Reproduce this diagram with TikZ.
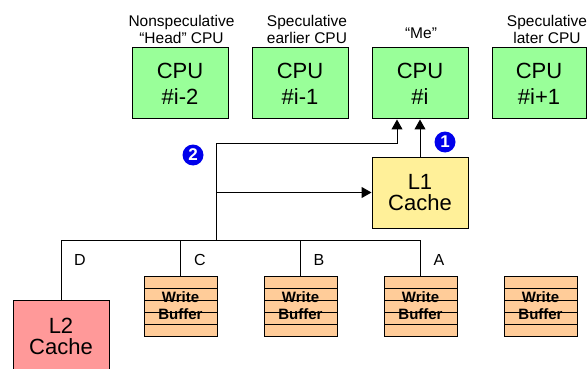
\documentclass[tikz,border=0pt]{standalone}
\usepackage{fontspec}
\setmainfont{Liberation Sans}
\usetikzlibrary{arrows.meta}
\definecolor{cpugreen}{RGB}{153,255,153}
\definecolor{lonecol}{RGB}{255,240,153}
\definecolor{ltwocol}{RGB}{255,153,153}
\definecolor{wbcol}{RGB}{255,204,153}
\definecolor{numblue}{RGB}{0,0,235}
\tikzset{
  box/.style={draw=black, line width=1pt, minimum width=96pt, minimum height=71pt, inner sep=0pt, align=center, font=\fontsize{22}{26}\selectfont},
  cpubox/.style={box, fill=cpugreen},
  cachebox/.style={box, font=\fontsize{22}{21}\selectfont},
  wbuf/.style={draw=black, line width=1pt, fill=wbcol, minimum width=73pt, minimum height=60pt, inner sep=0pt, align=center,
    font=\fontsize{15}{17}\selectfont\bfseries,
    path picture={\foreach \k in {1,...,4}{\draw[line width=1pt] ([yshift=-\k*12pt]path picture bounding box.north west) -- ([yshift=-\k*12pt]path picture bounding box.north east);}}},
  toplabel/.style={align=center, inner sep=0pt, font=\fontsize{15.5}{16.5}\selectfont},
  buslabel/.style={inner sep=0pt, font=\fontsize{16}{18}\selectfont},
  num/.style={circle, fill=numblue, text=white, minimum size=21pt, inner sep=0pt, font=\fontsize{17}{17}\selectfont\bfseries},
  conn/.style={line width=1pt, draw=black},
  tri/.tip={Triangle[length=10pt,width=11pt]}
}
\begin{document}
\begin{tikzpicture}[x=1pt,y=-1pt]
\useasboundingbox (0,0) rectangle (587,369);
\clip (0,0) rectangle (587,369);
% labels above CPUs
\node[toplabel] (lab1) at (181.5,29.5) {Nonspeculative\\“Head” CPU};
\node[toplabel] (lab2) at (307,29.5) {Speculative\\earlier CPU};
\node[toplabel] (lab3) at (421,33) {“Me”};
\node[toplabel] (lab4) at (547,29.5) {Speculative\\later CPU};
% CPUs
\node[cpubox] (cm2) at (180,83.5) {CPU\\\#i-2};
\node[cpubox] (cm1) at (300,83.5) {CPU\\\#i-1};
\node[cpubox] (ci) at (420,83.5) {CPU\\\#i};
\node[cpubox, minimum width=94pt] (cp1) at (539,83.5) {CPU\\\#i+1};
% L1 cache
\node[cachebox, fill=lonecol] (L1) at (420,192.5) {L1\\Cache};
% L2 cache
\node[cachebox, fill=ltwocol, minimum height=72pt] (L2) at (61,336) {L2\\Cache};
% write buffers
\node[wbuf] (wbC) at (180.5,306) {Write\\Buffer};
\node[wbuf] (wbB) at (300.5,306) {Write\\Buffer};
\node[wbuf] (wbA) at (420.5,306) {Write\\Buffer};
\node[wbuf] (wbX) at (540.5,306) {Write\\Buffer};
% coordinates
\coordinate (bus) at (216,240);
\coordinate (tp) at (397,143);
% bus
\draw[conn] (L2.north) -- (L2.north |- bus) -| (wbA.north);
\draw[conn] (wbC.north) -- (wbC.north |- bus);
\draw[conn] (wbB.north) -- (wbB.north |- bus);
% paths to L1 and CPU
\draw[conn, -tri] (bus) |- (L1.west);
\draw[conn, -tri] (bus) -- (bus |- tp) -- (tp) -- (tp |- ci.south);
\draw[conn, -tri] (L1.north) -- (L1.north |- ci.south);
% bus labels
\node[buslabel] (lD) at (80,260) {D};
\node[buslabel] (lC) at (200,260) {C};
\node[buslabel] (lB) at (319,260) {B};
\node[buslabel] (lA) at (439,260) {A};
% numbers
\node[num] (n1) at (445,142) {1};
\node[num] (n2) at (193,155) {2};
\end{tikzpicture}
\end{document}
